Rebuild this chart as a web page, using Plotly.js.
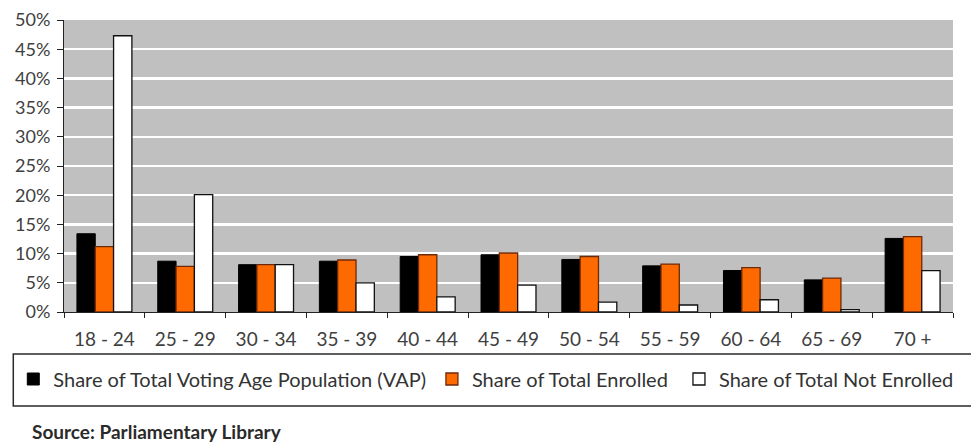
<!DOCTYPE html>
<html>
<head>
<meta charset="utf-8">
<script src="https://cdn.plot.ly/plotly-3.0.1.min.js"></script>
<style>
  html, body { margin: 0; padding: 0; background: #ffffff; }
  #chart { width: 971px; height: 443px; }
</style>
</head>
<body>
<div id="chart"></div>
<script>
// Age groups on the category axis
const ageGroups = ['18 - 24', '25 - 29', '30 - 34', '35 - 39', '40 - 44', '45 - 49',
                   '50 - 54', '55 - 59', '60 - 64', '65 - 69', '70 +'];

// Shares per age group (fractions of each total)
const shareVAP         = [0.134, 0.087, 0.081, 0.087, 0.095, 0.098, 0.090, 0.079, 0.071, 0.055, 0.126];
const shareEnrolled    = [0.112, 0.078, 0.081, 0.089, 0.098, 0.101, 0.095, 0.082, 0.076, 0.058, 0.129];
const shareNotEnrolled = [0.473, 0.201, 0.081, 0.050, 0.026, 0.046, 0.017, 0.012, 0.021, 0.004, 0.071];

// Series names shown in the legend
const seriesNames = ['Share of Total Voting Age Population (VAP)',
                     'Share of Total Enrolled',
                     'Share of Total Not Enrolled'];

const FONT = 'Lato, "Open Sans", sans-serif';

// Plot area in pixels, used to convert legend/box/source positions to paper coordinates
const W = 971, H = 443;
const M = { l: 64, r: 13, t: 20, b: 131 };
const plotW = W - M.l - M.r, plotH = H - M.t - M.b;
const px = x => (x - M.l) / plotW;
const py = y => (H - M.b - y) / plotH;

const traces = [
  {
    type: 'bar', name: seriesNames[0], x: ageGroups, y: shareVAP,
    marker: { color: '#000000', line: { color: '#000000', width: 1 } },
    legend: 'legend', hoverinfo: 'skip'
  },
  {
    type: 'bar', name: seriesNames[1], x: ageGroups, y: shareEnrolled,
    marker: { color: '#ff6a00', line: { color: '#6e2a08', width: 1.3 } },
    legend: 'legend2', hoverinfo: 'skip'
  },
  {
    type: 'bar', name: seriesNames[2], x: ageGroups, y: shareNotEnrolled,
    marker: { color: '#ffffff', line: { color: '#111111', width: 1.3 } },
    legend: 'legend3', hoverinfo: 'skip'
  }
];

const legendCommon = {
  orientation: 'h', yanchor: 'middle', xanchor: 'left',
  bgcolor: 'rgba(0,0,0,0)', borderwidth: 0,
  font: { family: FONT, size: 20, color: '#333333' },
  itemwidth: 30
};

const layout = {
  width: W, height: H,
  margin: M,
  paper_bgcolor: '#ffffff',
  plot_bgcolor: '#c0c0c0',
  font: { family: FONT, size: 18, color: '#404040' },
  barmode: 'group',
  bargap: 0.32,
  bargroupgap: 0,
  showlegend: true,
  xaxis: {
    type: 'category',
    tickson: 'boundaries',
    ticks: 'outside', ticklen: 5, tickwidth: 1, tickcolor: '#222222',
    showline: true, linecolor: '#222222', linewidth: 1,
    showgrid: false,
    tickfont: { family: FONT, size: 19, color: '#404040' },
    ticklabelstandoff: 10,
    fixedrange: true
  },
  yaxis: {
    range: [0, 0.5],
    dtick: 0.05,
    tickformat: '.0%',
    ticks: 'outside', ticklen: 6, tickwidth: 1, tickcolor: '#222222',
    showline: true, linecolor: '#222222', linewidth: 1,
    showgrid: true, gridcolor: '#ffffff', gridwidth: 2.5,
    zeroline: false,
    tickfont: { family: FONT, size: 18, color: '#404040' },
    ticklabelstandoff: 3,
    fixedrange: true
  },
  legend:  Object.assign({}, legendCommon, { x: px(13),  y: py(379) }),
  legend2: Object.assign({}, legendCommon, { x: px(434), y: py(379) }),
  // anchored on its right edge so the legend stays inside the page width
  legend3: Object.assign({}, legendCommon, { x: px(964), y: py(379), xanchor: 'right' }),
  shapes: [
    {
      type: 'rect', xref: 'paper', yref: 'paper',
      x0: px(13), x1: px(980), y0: py(406), y1: py(354),
      line: { color: '#2a2a2a', width: 1.5 },
      fillcolor: 'rgba(0,0,0,0)'
    }
  ],
  annotations: [
    {
      text: '<b>Source: Parliamentary Library</b>',
      xref: 'paper', yref: 'paper',
      x: px(30), y: py(432), xanchor: 'left', yanchor: 'middle',
      showarrow: false,
      font: { family: FONT, size: 19, color: '#2a2a2a' }
    }
  ]
};

Plotly.newPlot('chart', traces, layout, { displayModeBar: false, staticPlot: true });
</script>
</body>
</html>
